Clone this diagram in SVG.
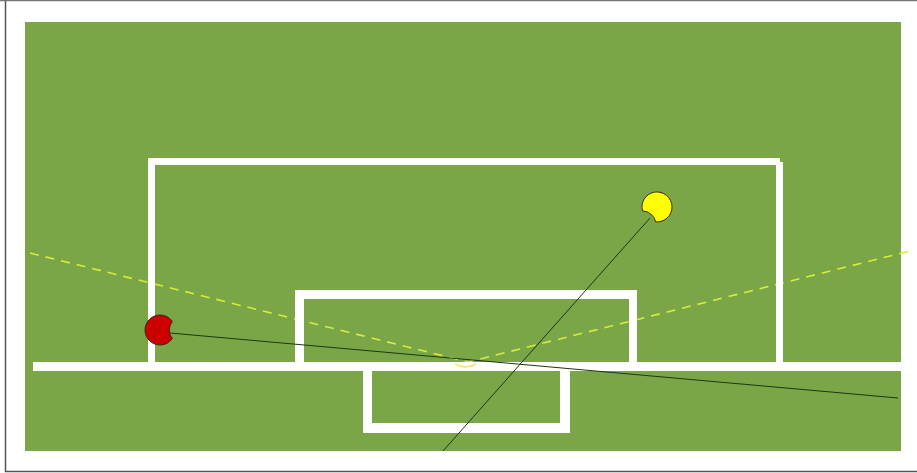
<svg xmlns="http://www.w3.org/2000/svg" width="917" height="473" viewBox="0 0 917 473">
  <style>
    .pitch { fill: #7ba647; }
    .line { fill: #ffffff; }
    .guide { fill: none; stroke: #d8ec3c; stroke-width: 1.6; stroke-dasharray: 9 7; }
    .trace { fill: none; stroke: #1e3614; stroke-width: 1; }
    .ball { stroke: #3a2a10; stroke-width: 1; }
  </style>
  <rect x="0" y="0" width="917" height="473" fill="#ffffff"/>
  <path d="M5.5 0 V471.5 H917" fill="none" stroke="#555555" stroke-width="1.5"/>
  <line x1="0" y1="0.5" x2="917" y2="0.5" stroke="#777777" stroke-width="1.5"/>

  <g id="pitch">
    <rect class="pitch" x="25" y="22" width="876" height="429"/>
  </g>

  <g id="connectors">
    <polyline class="guide" points="30,253 468,362 910,251"/>
  </g>

  <g id="lines">
    <rect class="line" x="33" y="362" width="868" height="9"/>
    <rect class="line" x="148" y="158" width="7" height="205"/>
    <rect class="line" x="148" y="158" width="632" height="7"/>
    <rect class="line" x="776" y="162" width="7" height="201"/>
    <rect class="line" x="295" y="290" width="342" height="9"/>
    <rect class="line" x="295" y="290" width="9" height="73"/>
    <rect class="line" x="629" y="290" width="8" height="73"/>
    <path class="line" d="M363 370 H570 V433 H363 Z M372 370 V423 H560 V370 Z" fill-rule="evenodd"/>
  </g>

  <g id="arc">
    <path d="M455 364 Q465 370 476 364" fill="none" stroke="#f0ec80" stroke-width="2"/>
  </g>

  <g id="traces">
    <line class="trace" x1="170" y1="333" x2="898" y2="398"/>
    <line class="trace" x1="650" y1="218" x2="443" y2="451"/>
  </g>

  <g id="red-ball">
    <path class="ball" fill="#cc0000" d="M172.3 321.4 A15 15 0 1 0 172.3 338.6 A14 14 0 0 1 172.3 321.4 Z"/>
  </g>

  <g id="yellow-ball">
    <path class="ball" fill="#ffff00" d="M655.7 221.9 A15 15 0 1 0 642.5 210.9 A14 14 0 0 1 655.7 221.9 Z"/>
  </g>
</svg>
